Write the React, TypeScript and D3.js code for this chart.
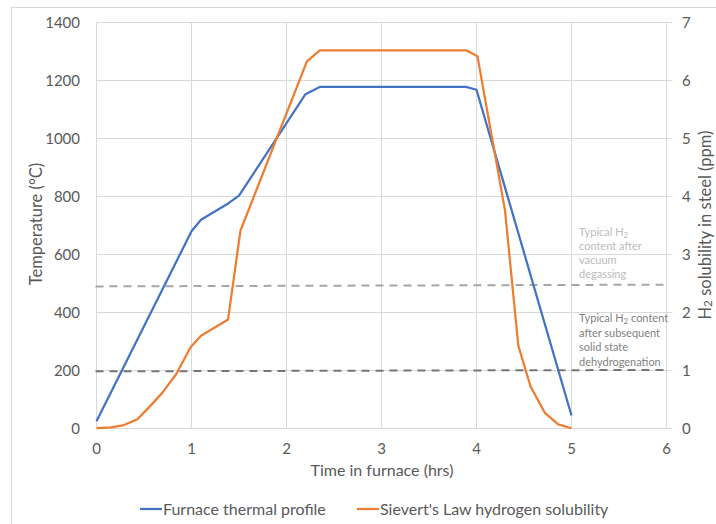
import React from "react";
import * as d3 from "d3";

const tempTime = [0, 1.0, 1.1, 1.39, 1.5, 2.2, 2.35, 3.89, 4.0, 5.0];
const tempValues = [25, 680, 720, 777, 803, 1153, 1178, 1178, 1168, 45];

const h2Time = [0, 0.15, 0.29, 0.43, 0.55, 0.69, 0.84, 0.99, 1.1, 1.385, 1.515, 2.215, 2.35, 3.89, 4.01, 4.3, 4.44, 4.57, 4.72, 4.86, 5.0];
const h2Values = [0.005, 0.02, 0.06, 0.16, 0.36, 0.61, 0.94, 1.4, 1.6, 1.88, 3.41, 6.33, 6.52, 6.52, 6.42, 3.76, 1.43, 0.72, 0.27, 0.07, 0.005];

const xTicks = [0, 1, 2, 3, 4, 5, 6];
const leftTicks = [0, 200, 400, 600, 800, 1000, 1200, 1400];
const rightTicks = [0, 1, 2, 3, 4, 5, 6, 7];

const vacuumLine = [2.45, 2.48];
const dehydroLine = [0.985, 1.01];

const vacuumNote = ["Typical H|2", "content after", "vacuum", "degassing"];
const dehydroNote = ["Typical H|2| content", "after subsequent", "solid state", "dehydrogenation"];

const FONT = "Lato, 'Open Sans', sans-serif";

function Sub({ s }: { s: string }) {
  const parts = s.split("|");
  return (
    <>
      {parts.map((p, i) =>
        i % 2 === 1 ? (
          <tspan key={i} fontSize="0.72em" dy="1.5">
            {p}
          </tspan>
        ) : (
          <tspan key={i} dy={i > 0 ? "-1.5" : undefined}>
            {p}
          </tspan>
        )
      )}
    </>
  );
}

export default function App() {
  const x = d3.scaleLinear().domain([0, 6]).range([96.5, 666.5]);
  const yL = d3.scaleLinear().domain([0, 1400]).range([428.5, 22.5]);
  const yR = d3.scaleLinear().domain([0, 7]).range([428.5, 22.5]);

  const tempLine = d3.line<number>().x((_, i) => x(tempTime[i])).y((d) => yL(d));
  const h2Line = d3.line<number>().x((_, i) => x(h2Time[i])).y((d) => yR(d));

  const grid = "#d9d9d9";
  const tickColor = "#595959";

  return (
    <svg width={716} height={524} style={{ position: "absolute", left: 0, top: 0, background: "#fff" }}>
      <rect x={11.5} y={7.5} width={720} height={530} fill="#fff" stroke="#d9d9d9" />
      {leftTicks.map((t) => (
        <line key={"h" + t} x1={x(0)} x2={x(6) + 6} y1={yL(t)} y2={yL(t)} stroke={grid} strokeWidth={1} />
      ))}
      {xTicks.map((t) => (
        <line key={"v" + t} x1={x(t)} x2={x(t)} y1={yL(0)} y2={yL(1400)} stroke={grid} strokeWidth={1} />
      ))}
      {leftTicks.map((t) => (
        <text key={"l" + t} x={80} y={yL(t)} dy="0.35em" textAnchor="end" fontFamily={FONT} fontSize={15} fill={tickColor}>
          {t}
        </text>
      ))}
      {rightTicks.map((t) => (
        <text key={"r" + t} x={682} y={yR(t)} dy="0.35em" textAnchor="start" fontFamily={FONT} fontSize={15} fill={tickColor}>
          {t}
        </text>
      ))}
      {xTicks.map((t) => (
        <text key={"x" + t} x={x(t)} y={449} dy="0.35em" textAnchor="middle" fontFamily={FONT} fontSize={15} fill={tickColor}>
          {t}
        </text>
      ))}
      <line x1={x(0) - 1} x2={x(6)} y1={yR(vacuumLine[0])} y2={yR(vacuumLine[1])} stroke="#a6a6a6" strokeWidth={2} strokeDasharray="8,6" />
      <line x1={x(0) - 1} x2={x(6)} y1={yR(dehydroLine[0])} y2={yR(dehydroLine[1])} stroke="#767676" strokeWidth={2} strokeDasharray="8,6" />
      <path d={tempLine(tempValues) || ""} fill="none" stroke="#4472c4" strokeWidth={2.25} strokeLinejoin="round" />
      <path d={h2Line(h2Values) || ""} fill="none" stroke="#ed7d31" strokeWidth={2.25} strokeLinejoin="round" />
      {vacuumNote.map((s, i) => (
        <text key={"vn" + i} x={579} y={236 + i * 14} fontFamily={FONT} fontSize={11} fill="#bcbcbc">
          <Sub s={s} />
        </text>
      ))}
      {dehydroNote.map((s, i) => (
        <text key={"dn" + i} x={579} y={322 + i * 14.5} fontFamily={FONT} fontSize={11} fill="#7f7f7f">
          <Sub s={s} />
        </text>
      ))}
      <text transform="translate(36,224) rotate(-90)" textAnchor="middle" dy="0.35em" fontFamily={FONT} fontSize={16.5} fill={tickColor}>
        Temperature (°C)
      </text>
      <text transform="translate(705,225) rotate(-90)" textAnchor="middle" dy="0.35em" fontFamily={FONT} fontSize={16.5} fill={tickColor}>
        <Sub s="H|2| solubility in steel (ppm)" />
      </text>
      <text x={382} y={470} dy="0.35em" textAnchor="middle" fontFamily={FONT} fontSize={16} fill={tickColor}>
        Time in furnace (hrs)
      </text>
      <line x1={140} x2={162} y1={509} y2={509} stroke="#4472c4" strokeWidth={2.25} />
      <text x={163} y={509} dy="0.35em" fontFamily={FONT} fontSize={16} fill={tickColor}>
        Furnace thermal profile
      </text>
      <line x1={357} x2={379} y1={509} y2={509} stroke="#ed7d31" strokeWidth={2.25} />
      <text x={380} y={509} dy="0.35em" fontFamily={FONT} fontSize={16} fill={tickColor}>
        Sievert's Law hydrogen solubility
      </text>
    </svg>
  );
}
